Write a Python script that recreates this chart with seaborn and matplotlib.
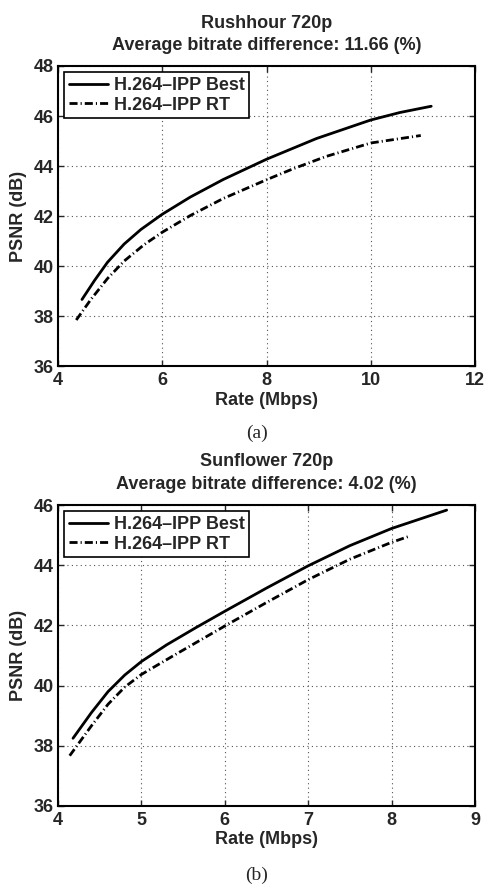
import matplotlib
matplotlib.use("Agg")
import matplotlib.pyplot as plt
import seaborn as sns
import pandas as pd

# ---- data ----
series_names = ["H.264\u2013IPP Best", "H.264\u2013IPP RT"]

top_title = ["Rushhour 720p", "Average bitrate difference: 11.66 (%)"]
top_best_rate = [4.46, 4.7, 4.95, 5.27, 5.59, 6.0, 6.54, 7.17, 8.0, 8.96, 10.0, 10.56, 11.16]
top_best_psnr = [38.66, 39.42, 40.15, 40.88, 41.46, 42.07, 42.76, 43.46, 44.27, 45.1, 45.84, 46.14, 46.39]
top_rt_rate = [4.35, 4.63, 4.95, 5.27, 5.65, 6.0, 6.54, 7.17, 8.0, 8.5, 9.14, 10.0, 10.96]
top_rt_psnr = [37.84, 38.66, 39.5, 40.2, 40.85, 41.35, 42.02, 42.7, 43.45, 43.88, 44.38, 44.92, 45.22]
top_xticks = [4, 6, 8, 10, 12]
top_yticks = [36, 38, 40, 42, 44, 46, 48]

bot_title = ["Sunflower 720p", "Average bitrate difference: 4.02 (%)"]
bot_best_rate = [4.18, 4.4, 4.6, 4.8, 5.0, 5.3, 5.65, 6.0, 6.5, 7.0, 7.5, 8.0, 8.66]
bot_best_psnr = [38.25, 39.1, 39.8, 40.35, 40.8, 41.35, 41.92, 42.47, 43.24, 43.98, 44.65, 45.22, 45.83]
bot_rt_rate = [4.14, 4.4, 4.6, 4.8, 5.0, 5.4, 6.0, 6.5, 7.0, 7.5, 8.0, 8.2]
bot_rt_psnr = [37.67, 38.66, 39.38, 39.95, 40.37, 41.02, 41.98, 42.76, 43.52, 44.2, 44.76, 44.95]
bot_xticks = [4, 5, 6, 7, 8, 9]
bot_yticks = [36, 38, 40, 42, 44, 46]

captions = ["(a)", "(b)"]

# ---- style ----
sns.set_style("ticks")
plt.rcParams["font.family"] = ["Liberation Sans", "DejaVu Sans"]
plt.rcParams["font.weight"] = "bold"
plt.rcParams["axes.labelweight"] = "bold"
plt.rcParams["xtick.direction"] = "in"
plt.rcParams["ytick.direction"] = "in"

W, H = 486, 886
fig = plt.figure(figsize=(W / 100, H / 100), dpi=100)
FS = 13

def make_panel(px_left, px_top, px_right, px_bottom, title, br, bp, rr, rp, xt, yt,
               cap, title_y, cap_y):
    rect = [px_left / W, 1 - px_bottom / H, (px_right - px_left) / W,
            (px_bottom - px_top) / H]
    ax = fig.add_axes(rect)
    df_b = pd.DataFrame({"Rate": br, "PSNR": bp})
    df_r = pd.DataFrame({"Rate": rr, "PSNR": rp})
    sns.lineplot(data=df_b, x="Rate", y="PSNR", ax=ax, color="black",
                 lw=2.0, linestyle="-", label=series_names[0], sort=False)
    sns.lineplot(data=df_r, x="Rate", y="PSNR", ax=ax, color="black",
                 lw=2.0, sort=False, label=series_names[1],
                 linestyle=(0, (2.9, 1.1, 0.4, 1.1)))
    ax.set_xlim(xt[0], xt[-1])
    ax.set_ylim(yt[0], yt[-1])
    ax.set_xticks(xt)
    ax.set_yticks(yt)
    ax.tick_params(labelsize=FS, length=4, width=1, top=True, right=True)
    ax.tick_params(axis="x", pad=4)
    ax.tick_params(axis="y", pad=3)
    for lab in ax.get_xticklabels() + ax.get_yticklabels():
        lab.set_fontweight("bold")
    ax.grid(True, linestyle=(0, (1, 3)), color="#555555", lw=0.8)
    for s in ax.spines.values():
        s.set_linewidth(1.5)
        s.set_color("black")
    hpx = px_bottom - px_top
    wpx = px_right - px_left
    ax.set_xlabel("Rate (Mbps)", fontsize=FS)
    ax.xaxis.label.set_va("center")
    ax.xaxis.set_label_coords(0.5, -34 / hpx)
    ax.set_ylabel("PSNR (dB)", fontsize=FS)
    ax.yaxis.label.set_va("center")
    ax.yaxis.set_label_coords(-(px_left - 19) / wpx, 0.5)
    cx = (px_left + px_right) / 2 / W
    fig.text(cx, 1 - title_y[0] / H, title[0], ha="center", va="center",
             fontsize=FS, fontweight="bold")
    fig.text(cx, 1 - title_y[1] / H, title[1], ha="center", va="center",
             fontsize=FS, fontweight="bold")
    leg = ax.legend(loc="upper left", fontsize=FS, frameon=True, fancybox=False,
                    edgecolor="black", framealpha=1, borderpad=0.25,
                    handlelength=2.15, handletextpad=0.35, labelspacing=0.15,
                    borderaxespad=0.35)
    leg.get_frame().set_linewidth(1.2)
    for t in leg.get_texts():
        t.set_fontweight("bold")
    fig.text(cx - 0.02, 1 - cap_y / H, cap, ha="center", va="center", fontsize=14,
             family=["Liberation Serif", "DejaVu Serif"], fontweight="normal")
    return ax

make_panel(58, 66, 475, 366, top_title, top_best_rate, top_best_psnr,
           top_rt_rate, top_rt_psnr, top_xticks, top_yticks, captions[0],
           (23, 45), 433)
make_panel(58, 505, 475, 806, bot_title, bot_best_rate, bot_best_psnr,
           bot_rt_rate, bot_rt_psnr, bot_xticks, bot_yticks, captions[1],
           (462, 485), 875)

fig.savefig("out.png", dpi=100)
